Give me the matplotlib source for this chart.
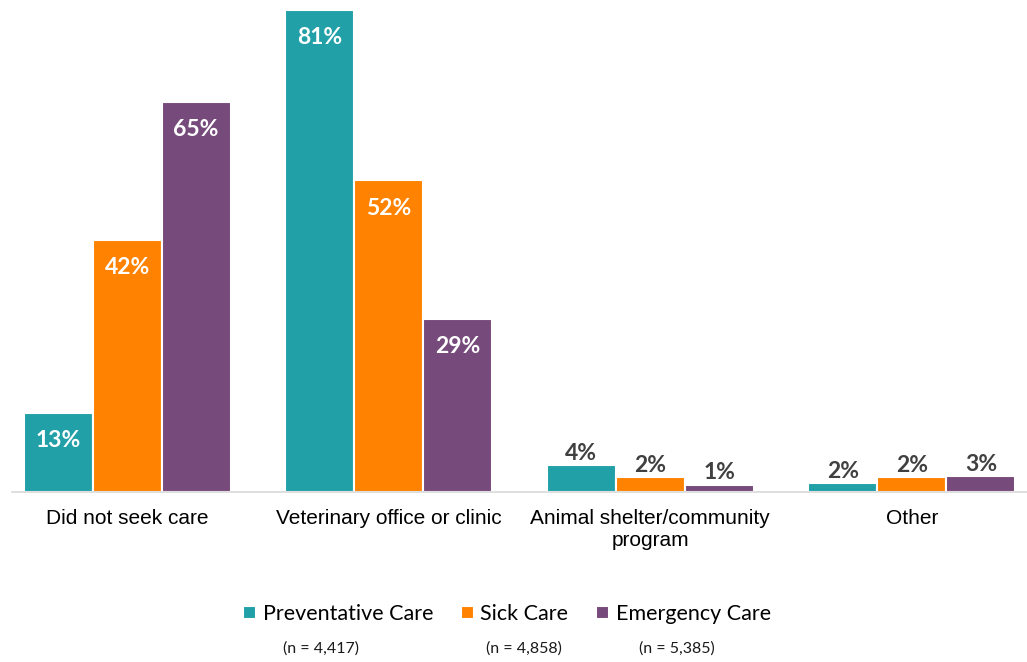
import matplotlib.pyplot as plt
import numpy as np

categories = ["Did not seek care", "Veterinary office or clinic",
              "Animal shelter/community\nprogram", "Other"]
series_names = ["Preventative Care", "Sick Care", "Emergency Care"]
sample_sizes = ["(n = 4,417)", "(n = 4,858)", "(n = 5,385)"]

# bar heights, labels as printed
preventative = [13.3, 81.0, 4.5, 1.5]
sick = [42.4, 52.4, 2.5, 2.5]
emergency = [65.6, 29.1, 1.2, 2.7]
preventative_labels = ["13%", "81%", "4%", "2%"]
sick_labels = ["42%", "52%", "2%", "2%"]
emergency_labels = ["65%", "29%", "1%", "3%"]

colors = ["#21A0A8", "#FF8200", "#774A7C"]

fig = plt.figure(figsize=(10.27, 6.62), dpi=100)
ax = fig.add_axes([12 / 1027, 170 / 662, 1015 / 1027, 487 / 662])

x = np.arange(len(categories))
width = 0.264
all_values = [preventative, sick, emergency]
all_labels = [preventative_labels, sick_labels, emergency_labels]

handles = []
for k, (vals, labs) in enumerate(zip(all_values, all_labels)):
    pos = x + (k - 1) * width
    bars = ax.bar(pos, vals, width, color=colors[k], edgecolor="white",
                  linewidth=1.5, label=series_names[k])
    handles.append(bars)
    for xp, v, lab in zip(pos, vals, labs):
        if v > 10:
            ax.annotate(lab, (xp, v), xytext=(0, -20), textcoords="offset points",
                        ha="center", va="center", color="white",
                        fontsize=16.5, fontweight="bold", family="Lato")
        else:
            ax.annotate(lab, (xp, v), xytext=(0, 1), textcoords="offset points",
                        ha="center", va="bottom", color="#404040",
                        fontsize=16.5, fontweight="bold", family="Lato")

ax.set_xlim(-0.44, 3.44)
ax.set_ylim(0, 81.85)
ax.set_xticks(x)
ax.set_xticklabels(categories, fontsize=15, family="Liberation Sans",
                   linespacing=1.2)
ax.tick_params(axis="x", length=0, pad=12.5)
ax.set_yticks([])
for s in ["top", "right", "left"]:
    ax.spines[s].set_visible(False)
ax.spines["bottom"].set_color("#D9D9D9")
ax.spines["bottom"].set_linewidth(1.2)

leg = fig.legend(handles=handles, labels=series_names, loc="center",
                 bbox_to_anchor=(507 / 1027, 1 - 614 / 662), ncol=3,
                 frameon=False, prop={"family": "Lato", "size": 15.5},
                 handlelength=0.6, handleheight=0.6, handletextpad=0.3,
                 columnspacing=1.3)

n_x = [321, 524, 677]
for xp, txt in zip(n_x, sample_sizes):
    fig.text(xp / 1027, 1 - 649 / 662, txt, ha="center", va="center",
             fontsize=11.5, family="Lato", color="#1a1a1a")

fig.savefig("out.png", dpi=100)
